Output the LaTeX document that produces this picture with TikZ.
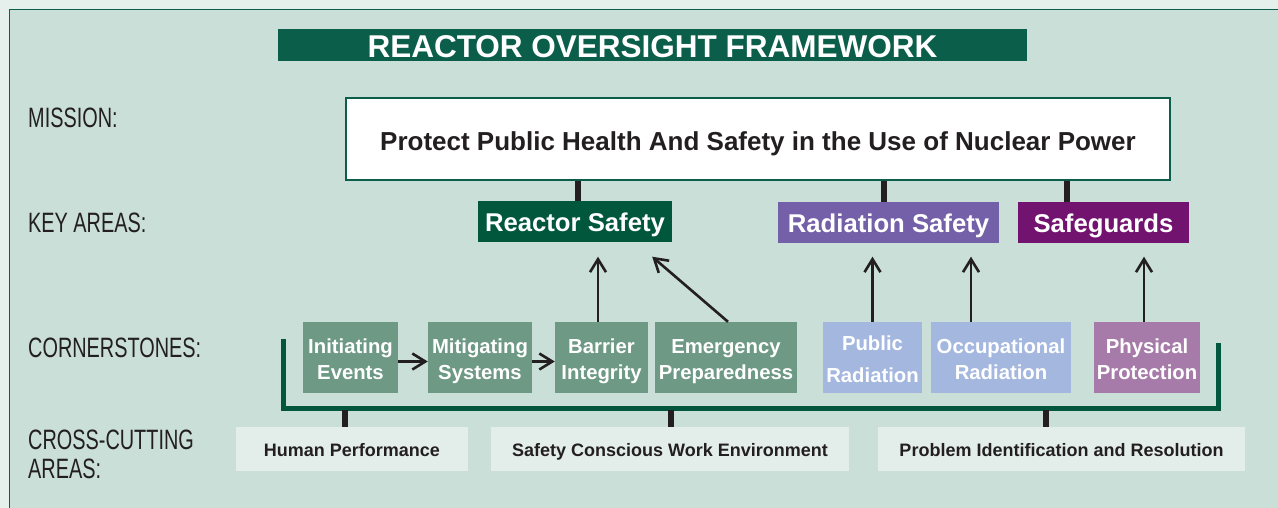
\documentclass[tikz,border=0pt]{standalone}
\usepackage{fontspec}
\setmainfont{Liberation Sans}
\newfontfamily\condfont[FakeStretch=0.71]{Liberation Sans}
\usetikzlibrary{arrows.meta,calc}
\definecolor{bandgray}{HTML}{E5EFEB}
\definecolor{panelgreen}{HTML}{CADFD7}
\definecolor{titlegreen}{HTML}{0B5E4A}
\definecolor{reactorgreen}{HTML}{00573C}
\definecolor{radpurple}{HTML}{7460A8}
\definecolor{sgpurple}{HTML}{72136F}
\definecolor{cornergreen}{HTML}{6D9985}
\definecolor{cornerblue}{HTML}{A4B7DF}
\definecolor{cornermauve}{HTML}{A77BA9}
\definecolor{crossfill}{HTML}{E3EEEA}
\definecolor{inkdark}{HTML}{231F20}
\tikzset{
  keyarea/.style={minimum height=40pt, inner sep=0pt, text=white, text height=20.4pt, text depth=0pt,
    font=\bfseries\fontsize{25.7}{30}\selectfont},
  corner/.style={minimum height=71pt, inner sep=0pt, text=white, align=center, text height=44.9pt, text depth=0pt,
    font=\bfseries\fontsize{20.3}{26}\selectfont},
  crossbox/.style={fill=crossfill, minimum height=44pt, inner sep=0pt, text=inkdark, text height=14.9pt, text depth=0pt,
    font=\bfseries\fontsize{18}{22}\selectfont},
  rowlabel/.style={anchor=west, inner sep=0pt, text=inkdark, align=left, text height=20pt, text depth=0pt,
    font=\condfont\fontsize{28}{28.7}\selectfont},
  uparrow/.style={-{Straight Barb[length=13pt,width=16pt]}, line width=2.6pt, draw=inkdark},
  stem/.style={line width=5.5pt, draw=inkdark},
  bracket/.style={line width=5pt, draw=reactorgreen, line join=miter}
}
\def\cornery{357.5}
\def\crossy{449}

\begin{document}
\begin{tikzpicture}[x=1pt,y=-1pt]
  \useasboundingbox (0,0) rectangle (1278,508);
  \fill[bandgray] (0,0) rectangle (1278,508);
  \filldraw[fill=panelgreen, draw=titlegreen, line width=1.6pt] (9.5,9.5) rectangle (1290,520);

  \node[fill=titlegreen, minimum width=749pt, minimum height=32pt, inner sep=0pt, text=white,
        text height=25.6pt, text depth=0pt,
        font=\bfseries\fontsize{31.5}{34}\selectfont] (title) at (652.5,45) {REACTOR OVERSIGHT FRAMEWORK};

  %%% Row labels %%%
  \node[rowlabel] (lmission) at (28,117.3) {MISSION:};
  \node[rowlabel] (lkey) at (28,222.5) {KEY AREAS:};
  \node[rowlabel] (lcorner) at (28,347.8) {CORNERSTONES:};
  \node[rowlabel, text height=48.7pt] (lcross) at (28,454.2) {CROSS-CUTTING\\AREAS:};

  \node[draw=titlegreen, line width=2pt, fill=white, minimum width=824pt, minimum height=82pt, inner sep=0pt,
        text=inkdark, text height=23.2pt, text depth=0pt,
        font=\bfseries\fontsize{26}{30}\selectfont] (mission) at (758,139)
        {Protect Public Health And Safety in the Use of Nuclear Power};

  %%% Key areas %%%
  \node[keyarea, fill=reactorgreen, minimum width=194pt] (rs) at (575,221.5) {Reactor Safety};
  \node[keyarea, fill=radpurple, minimum width=221pt] (rad) at (888.5,222.5) {Radiation Safety};
  \node[keyarea, fill=sgpurple, minimum width=171pt] (sg) at (1103.5,222.5) {Safeguards};

  \draw[stem] ($(rs.north)+(3,0)$) -- ($(rs.north |- mission.south)+(3,0)$);
  \draw[stem] ($(rad.north)+(-4.5,0)$) -- ($(rad.north |- mission.south)+(-4.5,0)$);
  \draw[stem] ($(sg.north)+(-36.5,0)$) -- ($(sg.north |- mission.south)+(-36.5,0)$);

  %%% Cornerstones %%%
  \node[corner, fill=cornergreen, minimum width=95pt] (ie) at (350.5,\cornery) {Initiating\\Events};
  \node[corner, fill=cornergreen, minimum width=104pt] (ms) at (480,\cornery) {Mitigating\\Systems};
  \node[corner, fill=cornergreen, minimum width=93pt] (bi) at (601.5,\cornery) {Barrier\\Integrity};
  \node[corner, fill=cornergreen, minimum width=142pt] (ep) at (726,\cornery) {Emergency\\Preparedness};
  \node[corner, fill=cornerblue, minimum width=99pt, text height=50.1pt,
        font=\bfseries\fontsize{20.3}{32}\selectfont] (pr) at (872.5,\cornery) {Public\\Radiation};
  \node[corner, fill=cornerblue, minimum width=140pt] (or) at (1001,\cornery) {Occupational\\Radiation};
  \node[corner, fill=cornermauve, minimum width=106pt] (pp) at (1147,\cornery) {Physical\\Protection};

  \draw[uparrow] ([yshift=-4pt]ie.east) -- ([yshift=-4pt]ms.west);
  \draw[uparrow] ([yshift=-4pt]ms.east) -- ([yshift=-4pt]bi.west);
  \draw[uparrow] ($(bi.north)+(-3.5,0)$) -- ($(bi.north |- rs.south)+(-3.5,15)$);
  \draw[uparrow] ($(ep.north)+(2,0)$) -- ($(rs.south east)+(-20,15)$);
  \draw[uparrow] (pr.north) -- ($(pr.north |- rad.south)+(0,14)$);
  \draw[uparrow] ($(or.north)+(-30,0)$) -- ($(or.north |- rad.south)+(-30,14)$);
  \draw[uparrow] ($(pp.north)+(-3,0)$) -- ($(pp.north |- sg.south)+(-3,14)$);

  %%% Bracket %%%
  \coordinate (bl) at (283,339);
  \coordinate (br) at (1218,343);
  \coordinate (bb) at (0,408);
  \draw[bracket] (bl) -- (bl |- bb) -- (br |- bb) -- (br);

  %%% Cross-cutting areas %%%
  \node[crossbox, minimum width=232pt] (hp) at (352,\crossy) {Human Performance};
  \node[crossbox, minimum width=358pt] (sc) at (670,\crossy) {Safety Conscious Work Environment};
  \node[crossbox, minimum width=367pt] (pi) at (1061.5,\crossy) {Problem Identification and Resolution};

  \draw[stem] ($(hp.north)+(-7,0)$) -- ($(hp.north |- bb)+(-7,2)$);
  \draw[stem] ($(sc.north)+(1,0)$) -- ($(sc.north |- bb)+(1,2)$);
  \draw[stem] ($(pi.north)+(-15.5,0)$) -- ($(pi.north |- bb)+(-15.5,2)$);
\end{tikzpicture}
\end{document}
